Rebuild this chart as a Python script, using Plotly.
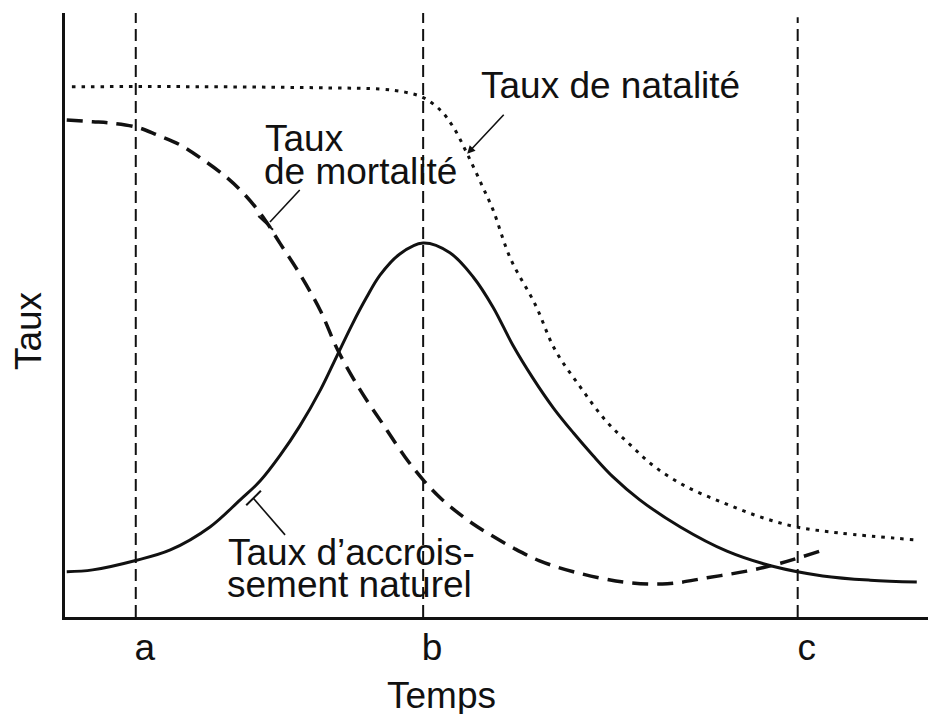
import plotly.graph_objects as go

# ---- data (time units 0..100, rate units 0..100) ----
natalite_x = [0.8, 15.6, 30.7, 36.5, 39.4, 41.5, 43.5, 45.0, 46.6, 48.4, 49.6, 51.6, 54.5, 56.8, 59.7, 62.6, 65.5, 68.4, 72.1, 76.3, 80.5, 84.8, 89.8, 98.3]
natalite_y = [87.8, 87.8, 87.6, 87.4, 86.9, 86.0, 83.9, 81.1, 76.7, 71.2, 67.4, 59.4, 51.7, 44.2, 38.1, 32.6, 28.5, 24.8, 21.5, 18.9, 16.6, 14.9, 13.9, 12.8]

mortalite_x = [0.2, 3.2, 5.2, 8.3, 10.7, 13.3, 16.0, 18.8, 21.1, 23.2, 24.9, 27.2, 29.6, 31.6, 34.2, 36.9, 39.4, 41.5, 43.5, 45.4, 47.3, 49.3, 52.1, 55.0, 58.9, 64.7, 69.8, 74.4, 79.0, 82.9, 88.3]
mortalite_y = [82.3, 82.0, 81.8, 81.1, 79.8, 78.2, 75.7, 72.7, 69.5, 65.7, 61.9, 56.8, 50.7, 44.2, 37.6, 31.8, 26.5, 22.7, 19.7, 17.4, 15.4, 13.6, 11.3, 9.3, 7.5, 5.8, 5.5, 6.5, 7.6, 8.9, 11.3]

accroissement_x = [0.2, 3.2, 8.3, 12.2, 16.8, 20.3, 22.6, 24.9, 27.2, 29.6, 31.5, 33.3, 34.9, 36.5, 38.8, 41.5, 44.6, 47.3, 49.6, 51.9, 54.2, 56.6, 58.9, 61.2, 63.5, 66.6, 71.3, 76.7, 82.0, 87.8, 93.3, 98.7]
accroissement_y = [7.5, 7.8, 9.4, 11.1, 14.9, 19.4, 22.5, 26.7, 31.6, 37.6, 43.2, 48.5, 52.8, 56.6, 60.1, 61.9, 60.3, 56.3, 51.3, 45.0, 39.6, 34.6, 30.5, 26.7, 23.2, 19.4, 14.9, 10.9, 8.4, 6.8, 6.1, 5.8]

phase_x = [8.2, 41.5, 84.9]
phase_labels = ["a", "b", "c"]
phase_top = [100, 100, 99.3]

FONT = "Liberation Sans, Arial, sans-serif"
INK = "#111111"
FS = 37

fig = go.Figure()

fig.add_trace(go.Scatter(x=natalite_x, y=natalite_y, mode="lines", line_shape="spline",
                         line=dict(color=INK, width=3, dash="3.5px,6px", smoothing=1.0),
                         showlegend=False, hoverinfo="skip"))
fig.add_trace(go.Scatter(x=mortalite_x, y=mortalite_y, mode="lines", line_shape="spline",
                         line=dict(color=INK, width=3.5, dash="16px,9px", smoothing=1.0),
                         showlegend=False, hoverinfo="skip"))
fig.add_trace(go.Scatter(x=accroissement_x, y=accroissement_y, mode="lines", line_shape="spline",
                         line=dict(color=INK, width=3, smoothing=1.0),
                         showlegend=False, hoverinfo="skip"))

shapes = []
for xv, top in zip(phase_x, phase_top):
    shapes.append(dict(type="line", xref="x", yref="y", x0=xv, x1=xv, y0=0, y1=top,
                       line=dict(color=INK, width=2, dash="12px,6px"), layer="below"))

# leader lines with small end bars
leaders = [
    ((27.2, 70.7), (23.75, 65.4), (22.4, 66.4), (24.1, 64.1)),
    ((25.5, 13.6), (21.8, 19.7), (21.0, 18.5), (22.7, 20.9)),
]
for (p0, p1, t0, t1) in leaders:
    shapes.append(dict(type="line", xref="x", yref="y", x0=p0[0], y0=p0[1], x1=p1[0], y1=p1[1],
                       line=dict(color=INK, width=1.6)))
    shapes.append(dict(type="line", xref="x", yref="y", x0=t0[0], y0=t0[1], x1=t1[0], y1=t1[1],
                       line=dict(color=INK, width=2)))

annotations = [
    dict(x=46.6, y=76.7, ax=51.0, ay=83.4, axref="x", ayref="y", xref="x", yref="y", text="",
         showarrow=True, arrowhead=2, arrowsize=1, arrowwidth=1.6, arrowcolor=INK),
]

def lab(text, x, y, xanchor="left"):
    return dict(x=x, y=y, xref="x", yref="y", text=text, showarrow=False, xanchor=xanchor,
                yanchor="middle", font=dict(family=FONT, size=FS, color=INK))

annotations += [
    lab("Taux de natalité", 48.0, 88.0),
    lab("Taux", 23.0, 79.3),
    lab("de mortalité", 22.8, 73.8),
    lab("Taux d\u2019accrois-", 18.6, 10.6),
    lab("sement naturel", 18.5, 5.3),
    # axis titles
    dict(x=0.4357, y=0, xref="paper", yref="paper", yshift=-78, text="Temps", showarrow=False,
         xanchor="center", yanchor="middle", font=dict(family=FONT, size=FS, color=INK)),
    dict(x=-0.0429, y=0.475, xref="paper", yref="paper", text="Taux", showarrow=False, textangle=-90,
         xanchor="center", yanchor="middle", font=dict(family=FONT, size=FS, color=INK)),
]

fig.update_layout(
    width=928, height=714,
    margin=dict(l=65, r=0, t=13, b=97, autoexpand=False),
    paper_bgcolor="white", plot_bgcolor="white",
    font=dict(family=FONT, size=FS, color=INK),
    shapes=shapes, annotations=annotations,
    xaxis=dict(range=[0, 100], showgrid=False, zeroline=False, showline=True, linecolor=INK, linewidth=3,
               tickvals=phase_x, ticktext=phase_labels, ticks="", ticklabelshift=9, ticklabelstandoff=-4,
               tickfont=dict(family=FONT, size=FS, color=INK), automargin=False),
    yaxis=dict(range=[0, 100], showgrid=False, zeroline=False, showline=True, linecolor=INK, linewidth=3,
               showticklabels=False, ticks="", automargin=False),
)

fig.write_html("out.html", config={"displayModeBar": False},
               post_script="document.body.style.margin='0';")
